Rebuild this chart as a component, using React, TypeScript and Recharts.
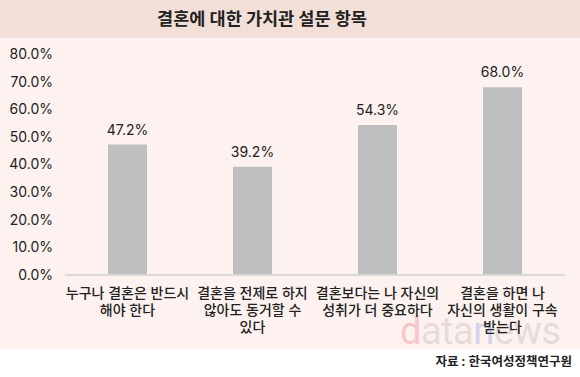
import { BarChart, Bar, XAxis, YAxis, LabelList } from "recharts";

const categories = [
  "누구나 결혼은 반드시\n해야 한다",
  "결혼을 전제로 하지\n않아도 동거할 수\n있다",
  "결혼보다는 나 자신의\n성취가 더 중요하다",
  "결혼을 하면 나\n자신의 생활이 구속\n받는다",
];
const values = [47.2, 39.2, 54.3, 68.0];
const yTicks = [0, 10, 20, 30, 40, 50, 60, 70, 80];

const data = categories.map((name, i) => ({ name, value: values[i] }));

const FONT = "Inter, 'Noto Sans CJK KR', sans-serif";

const CategoryTick = ({ x, y, payload }: any) => {
  const lines = String(payload.value).split("\n");
  return (
    <text
      x={x}
      y={y}
      textAnchor="middle"
      fontSize={14}
      fontWeight={500}
      fill="#222"
      fontFamily={FONT}
    >
      {lines.map((line, i) => (
        <tspan key={i} x={x} dy={i === 0 ? 15 : 17}>
          {line}
        </tspan>
      ))}
    </text>
  );
};

const App = () => {
  return (
    <div
      style={{
        position: "absolute",
        left: 0,
        top: 0,
        width: 580,
        height: 377,
        background: "#ffffff",
        fontFamily: FONT,
        overflow: "hidden",
      }}
    >
      <div
        style={{
          position: "relative",
          height: 38,
          background: "#f2dfd8",
        }}
      >
        <div
          style={{
            position: "absolute",
            left: 0,
            width: 524,
            top: 0,
            color: "#222",
            fontSize: 17.5,
            fontWeight: 700,
            textAlign: "center",
            lineHeight: "38px",
          }}
        >
          결혼에 대한 가치관 설문 항목
        </div>
      </div>
      <div
        style={{
          position: "absolute",
          top: 38,
          left: 0,
          width: 580,
          height: 311,
          background: "#fdf2f0",
        }}
      >
        <div
          style={{
            position: "absolute",
            left: 400,
            top: 271,
            fontSize: 38,
            lineHeight: "44px",
            fontFamily: "Roboto, sans-serif",
            opacity: 0.2,
            letterSpacing: -0.5,
          }}
        >
          <span style={{ color: "#e02020" }}>d</span>
          <span style={{ color: "#888" }}>ata</span>
          <span style={{ color: "#2060e0" }}>n</span>
          <span style={{ color: "#888" }}>ews</span>
        </div>
        <div style={{ position: "absolute", left: 0, top: 0 }}>
          <BarChart
            width={580}
            height={311}
            data={data}
            margin={{ top: 16, right: 15, bottom: 0, left: 0 }}
          >
            <XAxis
              dataKey="name"
              height={74}
              tickLine={false}
              axisLine={{ stroke: "#d9d9d9", strokeWidth: 2 }}
              tick={<CategoryTick />}
              interval={0}
            />
            <YAxis
              width={65}
              domain={[0, 80]}
              ticks={yTicks}
              axisLine={false}
              tickLine={false}
              tickSize={0}
              tickMargin={12}
              tickFormatter={(v: number) => `${v.toFixed(1)}%`}
              tick={{ fontSize: 14, fill: "#222", fontFamily: FONT }}
            />
            <Bar dataKey="value" fill="#bfbfbf" barSize={39} isAnimationActive={false}>
              <LabelList
                dataKey="value"
                position="top"
                offset={10}
                formatter={(v: any) => `${Number(v).toFixed(1)}%`}
                style={{ fontSize: 14, fill: "#222", fontFamily: FONT }}
              />
            </Bar>
          </BarChart>
        </div>
      </div>
      <div
        style={{
          position: "absolute",
          right: 8,
          top: 351,
          fontSize: 12.5,
          fontWeight: 700,
          color: "#222",
        }}
      >
        자료 : 한국여성정책연구원
      </div>
    </div>
  );
};

export default App;
